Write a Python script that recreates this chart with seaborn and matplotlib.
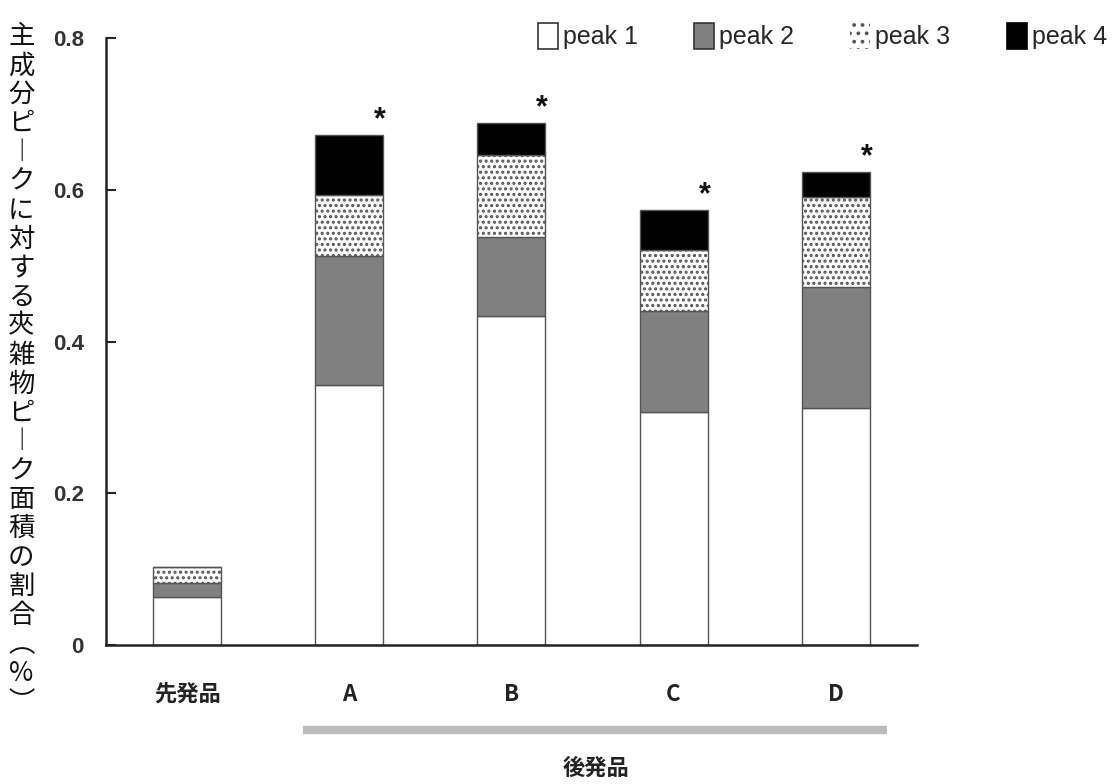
import matplotlib
matplotlib.use("Agg")
import matplotlib.pyplot as plt
from matplotlib.patches import Patch
import seaborn as sns
import numpy as np

# values
categories = ["先発品", "A", "B", "C", "D"]
peak1 = [0.063, 0.343, 0.434, 0.307, 0.312]
peak2 = [0.019, 0.170, 0.104, 0.134, 0.160]
peak3 = [0.021, 0.080, 0.108, 0.080, 0.118]
peak4 = [0.000, 0.079, 0.042, 0.052, 0.033]
significant = ["", "*", "*", "*", "*"]
peak_names = ["peak 1", "peak 2", "peak 3", "peak 4"]
group_label = "後発品"
ylabel = "主成分ピークに対する夾雑物ピーク面積の割合(%)"

sns.set_style("ticks")
plt.rcParams["font.family"] = ["Liberation Sans", "Noto Sans CJK JP", "DejaVu Sans"]
plt.rcParams["hatch.linewidth"] = 1.5
cjk = ["Noto Sans CJK JP", "DejaVu Sans"]

fig = plt.figure(figsize=(11.16, 7.84), dpi=100)
ax = fig.add_axes([0.095, 0.177, 0.7265, 0.7745])

edge = "#555555"
styles = [
    dict(color="white", hatch=None),
    dict(color="#808080", hatch=None),
    dict(color="white", hatch="..."),
    dict(color="black", hatch=None),
]

bottom = np.zeros(len(categories))
for vals, st in zip([peak1, peak2, peak3, peak4], styles):
    sns.barplot(x=categories, y=vals, bottom=bottom, color=st["color"],
                hatch=st["hatch"], edgecolor=edge, linewidth=1.0,
                width=0.42, saturation=1, ax=ax)
    bottom = bottom + np.array(vals)

# significance marks at the right edge above each bar
for i, (tot, s) in enumerate(zip(bottom, significant)):
    if s:
        ax.text(i + 0.19, tot + 0.02, s, ha="center", va="center",
                fontsize=22, fontweight="bold", color="#111111")

ax.set_xlim(-0.5, 4.5)
ax.set_ylim(0, 0.8)
ax.set_yticks([0, 0.2, 0.4, 0.6, 0.8])
ax.set_yticklabels(["0", "0.2", "0.4", "0.6", "0.8"])
ax.tick_params(axis="y", direction="in", length=7, width=1.5, pad=16,
               labelsize=16, labelcolor="#333333")
ax.tick_params(axis="x", length=0, pad=27)
for lab in ax.get_yticklabels():
    lab.set_fontweight("bold")
for lab in ax.get_xticklabels():
    lab.set_fontfamily(cjk)
    lab.set_fontsize(16)
    lab.set_fontweight("bold")
    lab.set_color("#222222")
sns.despine(ax=ax)
for sp in ["left", "bottom"]:
    ax.spines[sp].set_linewidth(1.8)
    ax.spines[sp].set_color("#222222")

# group bracket for the generic products
ax.plot([0.715, 4.316], [-0.112, -0.112], color="#bbbbbb", lw=6,
        solid_capstyle="butt", clip_on=False, transform=ax.transData)
ax.text(2.52, -0.162, group_label, ha="center", va="center", fontsize=16,
        fontweight="bold", family=cjk, color="#222222")

# vertical (tategaki) y label
vert = {"ー": "︱", "(": "︵", ")": "︶"}
chars = [vert.get(c, c) for c in ylabel]
y0, step = 0.953, 0.0369
for k, ch in enumerate(chars):
    fig.text(0.019, y0 - k * step, ch, ha="center", va="center",
             fontsize=19, family=cjk, color="#111111")

# legend
handles = [
    Patch(facecolor="white", edgecolor="#333333", linewidth=1.2),
    Patch(facecolor="#808080", edgecolor="#333333", linewidth=1.2),
    Patch(facecolor="white", edgecolor="#555555", hatch="..", linewidth=0),
    Patch(facecolor="black", edgecolor="black", linewidth=1.2),
]
fig.legend(handles, peak_names, loc="upper left", bbox_to_anchor=(0.473, 0.984),
           ncol=4, frameon=False, fontsize=18, handlelength=0.8,
           handleheight=1.25, handletextpad=0.2, columnspacing=2.25,
           borderaxespad=0)

fig.savefig("out.png", dpi=100)
